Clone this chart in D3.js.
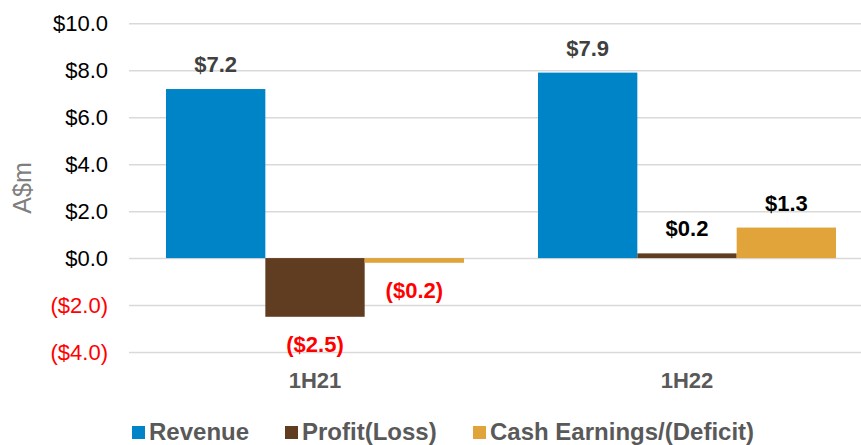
<!DOCTYPE html>
<html>
<head>
<meta charset="utf-8">
<script src="https://cdn.jsdelivr.net/npm/d3@7"></script>
<style>
  body { margin: 0; background: #fff; }
  svg { display: block; font-family: "Liberation Sans", Arial, sans-serif; }
</style>
</head>
<body>
<div id="chart"></div>
<script>
// data
const periods = ["1H21", "1H22"];
const seriesNames = ["Revenue", "Profit(Loss)", "Cash Earnings/(Deficit)"];
const seriesColors = ["#0084c8", "#603d20", "#e0a43b"];
const revenue = [7.2, 7.9];
const profit = [-2.5, 0.2];
const cashEarnings = [-0.2, 1.3];
const yTicks = [-4, -2, 0, 2, 4, 6, 8, 10];

const seriesValues = [revenue, profit, cashEarnings];

const width = 861, height = 445;

const svg = d3.select("#chart")
  .append("svg")
  .attr("width", width)
  .attr("height", height);

// scales
const x0 = d3.scaleBand().domain(periods).range([129, 873]);
const x1 = d3.scaleBand()
  .domain(seriesNames)
  .range([0, x0.bandwidth()])
  .paddingInner(0)
  .paddingOuter(0.3725);
const y = d3.scaleLinear().domain([-4, 10]).range([352, 23.3]);

const fmt = (v) => v < 0 ? `($${Math.abs(v).toFixed(1)})` : `$${v.toFixed(1)}`;

// gridlines + y tick labels
const yAxis = svg.append("g")
  .attr("transform", "translate(129,0)")
  .call(d3.axisLeft(y).tickValues(yTicks).tickSize(-(861 - 129)).tickPadding(21).tickFormat(fmt));
yAxis.select(".domain").remove();
yAxis.selectAll(".tick line")
  .attr("stroke", "#d9d9d9")
  .attr("stroke-width", 1.5);
yAxis.selectAll("text")
  .style("font-size", "22px")
  .attr("fill", (d) => d < 0 ? "#ff0000" : "#000");

// axis title
svg.append("text")
  .attr("transform", "translate(31,188) rotate(-90)")
  .attr("text-anchor", "middle")
  .style("font-size", "25px")
  .attr("fill", "#7f7f7f")
  .text("A$m");

// bars
const rows = [];
periods.forEach((p, i) => {
  seriesNames.forEach((s, j) => {
    rows.push({ period: p, series: s, value: seriesValues[j][i], color: seriesColors[j], idx: j });
  });
});

const bars = svg.append("g");
bars.selectAll("rect")
  .data(rows)
  .enter()
  .append("rect")
  .attr("x", (d) => x0(d.period) + x1(d.series))
  .attr("width", x1.bandwidth())
  .attr("y", (d) => y(Math.max(0, d.value)))
  .attr("height", (d) => Math.abs(y(d.value) - y(0)))
  .attr("fill", (d) => d.color);

// data labels
bars.selectAll("text")
  .data(rows)
  .enter()
  .append("text")
  .attr("x", (d) => x0(d.period) + x1(d.series) + x1.bandwidth() / 2)
  .attr("y", (d) => d.value < 0 ? y(d.value) + 35 : y(d.value) - 17)
  .attr("text-anchor", "middle")
  .style("font-size", "22px")
  .style("font-weight", "bold")
  .attr("fill", (d) => d.value < 0 ? "#ff0000" : (d.idx === 0 ? "#404040" : "#000"))
  .text((d) => fmt(d.value));

// category labels
svg.append("g")
  .selectAll("text")
  .data(periods)
  .enter()
  .append("text")
  .attr("x", (d) => x0(d) + x0.bandwidth() / 2)
  .attr("y", 388)
  .attr("text-anchor", "middle")
  .style("font-size", "22px")
  .style("font-weight", "bold")
  .attr("fill", "#595959")
  .text((d) => d);

// legend
const legendX = [132, 285, 473];
const legend = svg.append("g")
  .selectAll("g")
  .data(seriesNames)
  .enter()
  .append("g")
  .attr("transform", (d, i) => `translate(${legendX[i]},426)`);
legend.append("rect")
  .attr("width", 13)
  .attr("height", 13)
  .attr("fill", (d, i) => seriesColors[i]);
legend.append("text")
  .attr("x", 17)
  .attr("y", 13.5)
  .style("font-size", "24px")
  .style("font-weight", "bold")
  .attr("fill", "#595959")
  .text((d) => d);
</script>
</body>
</html>
